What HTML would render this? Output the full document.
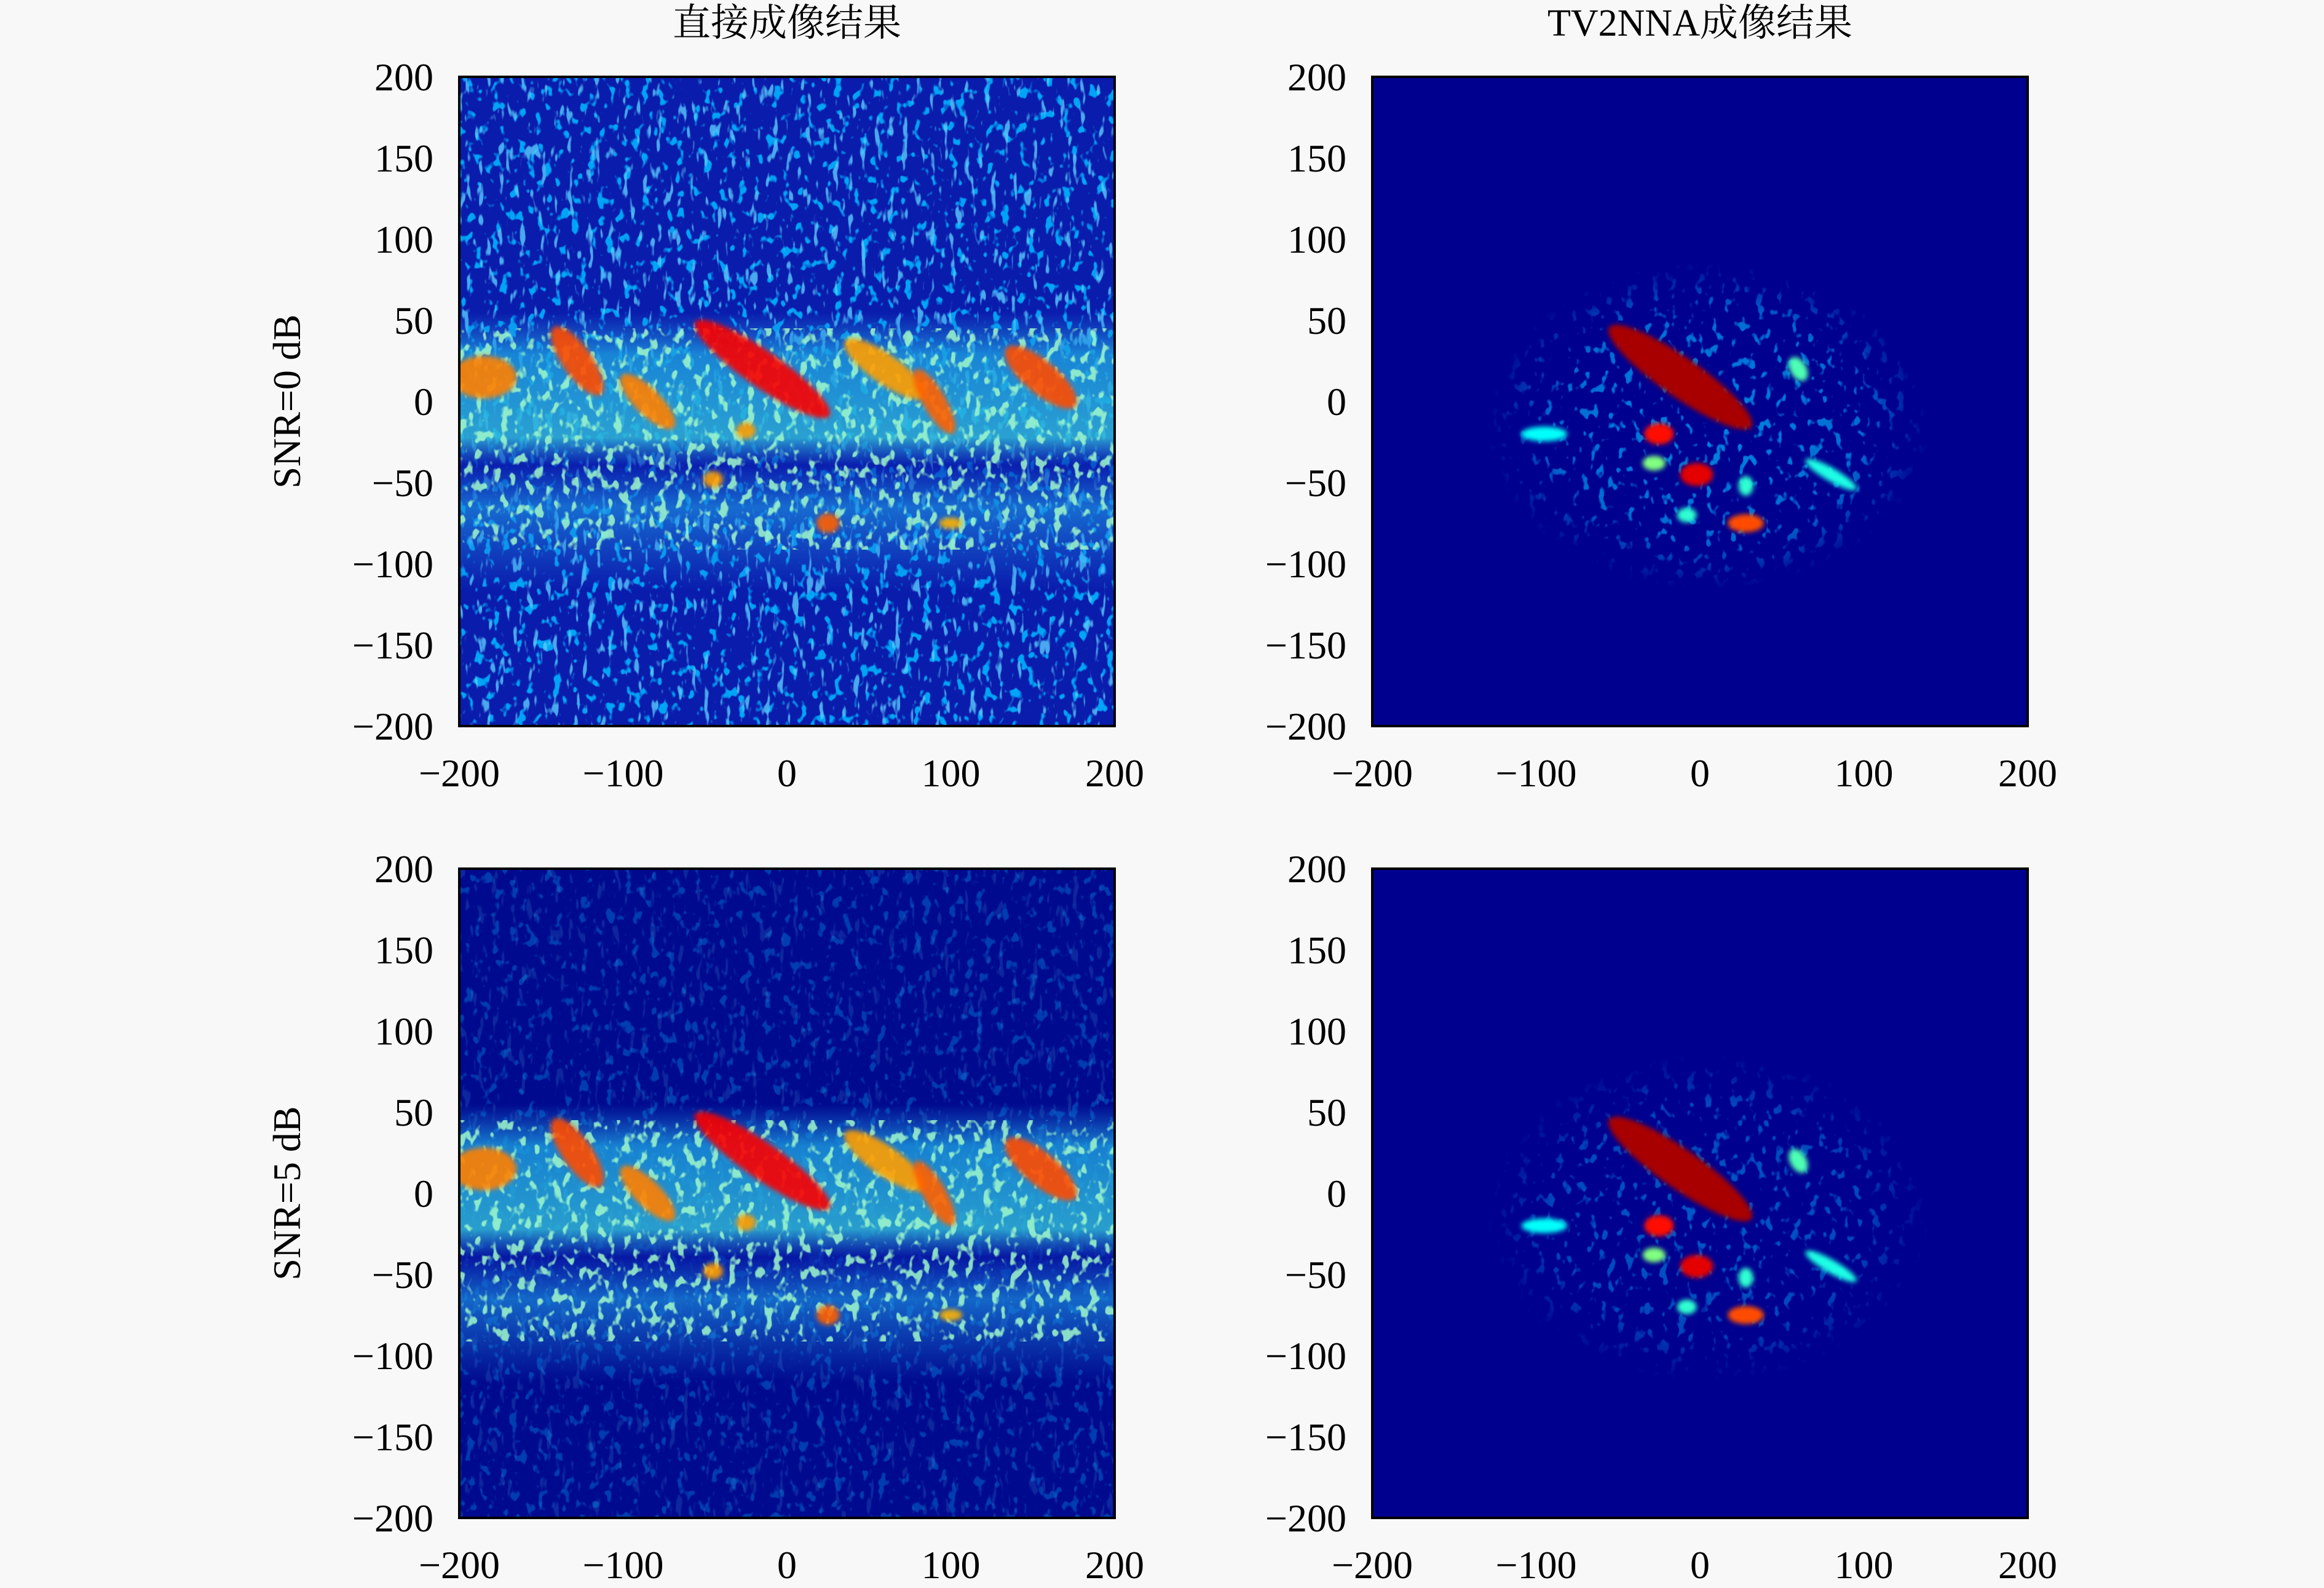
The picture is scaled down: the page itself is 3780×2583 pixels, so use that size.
<!DOCTYPE html>
<html><head><meta charset="utf-8"><style>
html,body{margin:0;padding:0;background:#f8f8f8;}
svg{display:block;}
text{font-family:"Liberation Serif","Noto Serif CJK SC",serif;fill:#000;}
</style></head><body>
<svg id="fig" width="3780" height="2583" viewBox="0 0 3780 2583" xmlns="http://www.w3.org/2000/svg">
<defs>
<filter id="spkA" x="0" y="0" width="1" height="1" filterUnits="objectBoundingBox"><feTurbulence type="fractalNoise" baseFrequency="0.09 0.03" numOctaves="2" seed="4"/><feColorMatrix type="matrix" values="0 0 0 0 0.1  0 0 0 0 0.6  0 0 0 0 1  10 0 0 0 -6.2"/></filter>
<filter id="spkB" x="0" y="0" width="1" height="1"><feTurbulence type="fractalNoise" baseFrequency="0.07 0.05" numOctaves="2" seed="9"/><feColorMatrix type="matrix" values="0 0 0 0 0.35  0 0 0 0 0.95  0 0 0 0 0.6  9 0 0 0 -5.0"/></filter>
<filter id="spkC" x="0" y="0" width="1" height="1"><feTurbulence type="fractalNoise" baseFrequency="0.07 0.05" numOctaves="2" seed="12"/><feColorMatrix type="matrix" values="0 0 0 0 0.0  0 0 0 0 0.45  0 0 0 0 1  10 0 0 0 -6.0"/></filter>
<filter id="blur2" x="-0.3" y="-0.3" width="1.6" height="1.6"><feGaussianBlur stdDeviation="4"/></filter>
<linearGradient id="band" x1="0" y1="0" x2="0" y2="1">
<stop offset="0" stop-color="#1c7ee0" stop-opacity="0"/><stop offset="0.15" stop-color="#1c9ee0" stop-opacity="0.8"/>
<stop offset="0.45" stop-color="#30b8d8" stop-opacity="0.85"/><stop offset="0.55" stop-color="#0a20b0" stop-opacity="0.6"/>
<stop offset="0.7" stop-color="#1c8ee0" stop-opacity="0.7"/><stop offset="1" stop-color="#1c7ee0" stop-opacity="0"/>
</linearGradient>
<radialGradient id="cloudG"><stop offset="0" stop-color="#fff" stop-opacity="1"/><stop offset="0.7" stop-color="#fff" stop-opacity="0.8"/><stop offset="1" stop-color="#fff" stop-opacity="0"/></radialGradient>
</defs>
<g id="root"></g>
</svg>
<script>
// ---- data (data units, axes -200..200) ----
const xTicks = [-200,-100,0,100,200];
const yTicks = [200,150,100,50,0,-50,-100,-150,-200];
const colTitles = ["直接成像结果","TV2NNA成像结果"];
const rowTitles = ["SNR=0 dB","SNR=5 dB"];
// direct-image targets: centre x, centre y, length, width, angle(deg), intensity(0..1)
const dirX = [-185,-128,-85,-15,60,90,155,-25,25,-45,100];
const dirY = [15,25,0,20,20,0,15,-18,-75,-48,-75];
const dirL = [40,50,45,100,60,45,55,12,14,12,14];
const dirW = [26,18,16,22,18,14,20,10,12,10,7];
const dirA = [0,-55,-45,-35,-35,-60,-40,0,0,0,0];
const dirV = [0.75,0.8,0.75,0.88,0.72,0.78,0.8,0.72,0.78,0.72,0.7];
// TV2NNA targets
const tvX = [-12,-25,-2,28,-28,28,-8,80,-95,60];
const tvY = [15,-20,-45,-75,-38,-52,-70,-45,-20,20];
const tvL = [106,18,20,22,14,12,12,36,28,16];
const tvW = [24,13,14,11,9,9,9,8,9,10];
const tvA = [-35,0,0,0,0,90,0,-30,0,-60];
const tvV = [0.96,0.86,0.9,0.8,0.5,0.42,0.42,0.4,0.38,0.45];

const panelX = [747,2232], panelY = [125,1413], PW = 1066, PH = 1056;
const NS="http://www.w3.org/2000/svg";
const root=document.getElementById('root');
function mk(tag,attrs,parent){const e=document.createElementNS(NS,tag);for(const k in attrs)e.setAttribute(k,attrs[k]);(parent||root).appendChild(e);return e;}
function jet(v){const r=Math.max(0,Math.min(1,1.5-Math.abs(4*v-3))),g=Math.max(0,Math.min(1,1.5-Math.abs(4*v-2))),b=Math.max(0,Math.min(1,1.5-Math.abs(4*v-1)));return `rgb(${Math.round(r*255)},${Math.round(g*255)},${Math.round(b*255)})`;}

for(let r=0;r<2;r++)for(let c=0;c<2;c++){
  const px=panelX[c],py=panelY[r];
  const sx=v=>px+(v+200)/400*PW, sy=v=>py+(200-v)/400*PH, sl=v=>v/400*PW;
  const g=mk('g',{});
  
  
  const cid=`clip${r}${c}`;
  const cp=mk('clipPath',{id:cid},g);mk('rect',{x:px,y:py,width:PW,height:PH},cp);
  const im=mk('g',{'clip-path':`url(#${cid})`},g);
  
  
  if(c===0){
    mk('rect',{x:px,y:py,width:PW,height:PH,fill:r===0?'#0a1cac':'#000a8e'},im);
    mk('rect',{x:px,y:py,width:PW,height:PH,filter:'url(#spkC)',opacity:r===0?0.9:0.3},im);
    mk('rect',{x:px,y:py,width:PW,height:PH,filter:'url(#spkA)',opacity:r===0?0.8:0.15},im);
    mk('rect',{x:px,y:sy(55),width:PW,height:sl(170),fill:'url(#band)'},im);
    mk('rect',{x:px,y:sy(45),width:PW,height:sl(135),filter:'url(#spkB)',opacity:0.85},im);
    for(let i=0;i<dirX.length;i++){
      const e=mk('ellipse',{cx:sx(dirX[i]),cy:sy(dirY[i]),rx:sl(dirL[i])/2,ry:sl(dirW[i])/2,fill:jet(dirV[i]),opacity:0.9,filter:'url(#blur2)',transform:`rotate(${-dirA[i]} ${sx(dirX[i])} ${sy(dirY[i])})`},im);
      
      
    }
  } else {
    mk('rect',{x:px,y:py,width:PW,height:PH,fill:'#00008f'},im);
    const mid=`mask${r}`;
    const m=mk('mask',{id:mid},g);
    mk('ellipse',{cx:sx(5),cy:sy(-15),rx:sl(135),ry:sl(100),fill:'url(#cloudG)'},m);
    const cl=mk('rect',{x:px,y:py,width:PW,height:PH,filter:'url(#spkC)',mask:`url(#${mid})`,opacity:r===0?0.75:0.5},im);
    
    
    for(let i=0;i<tvX.length;i++){
      const e=mk('ellipse',{cx:sx(tvX[i]),cy:sy(tvY[i]),rx:sl(tvL[i])/2,ry:sl(tvW[i])/2,fill:jet(tvV[i]),filter:'url(#blur2)',transform:`rotate(${-tvA[i]} ${sx(tvX[i])} ${sy(tvY[i])})`},im);
      
      
    }
  }
  const fr=mk('rect',{x:px,y:py,width:PW,height:PH,fill:'none',stroke:'#000','stroke-width':4},g);
  
  
  xTicks.forEach(t=>{
    const tl=mk('text',{x:sx(t),y:py+PH+98,'font-size':64,'text-anchor':'middle'},g);
    tl.textContent=(t<0?'\u2212':'')+Math.abs(t);
    
    
  });
  yTicks.forEach(t=>{
    const tl=mk('text',{x:px-42,y:sy(t)+22,'font-size':64,'text-anchor':'end'},g);
    tl.textContent=(t<0?'\u2212':'')+Math.abs(t);
    
    
  });
  if(r===0){
    const t=mk('text',{x:px+PW/2,y:58,'font-size':62,'text-anchor':'middle'},g);
    t.textContent=colTitles[c];
    
    
  }
  if(c===0){
    const cy=py+PH/2;
    const t=mk('text',{x:0,y:0,'font-size':64,'text-anchor':'middle',transform:`translate(488 ${cy}) rotate(-90)`},g);
    t.textContent=rowTitles[r];
    
    
  }
}
</script>
</body></html>
